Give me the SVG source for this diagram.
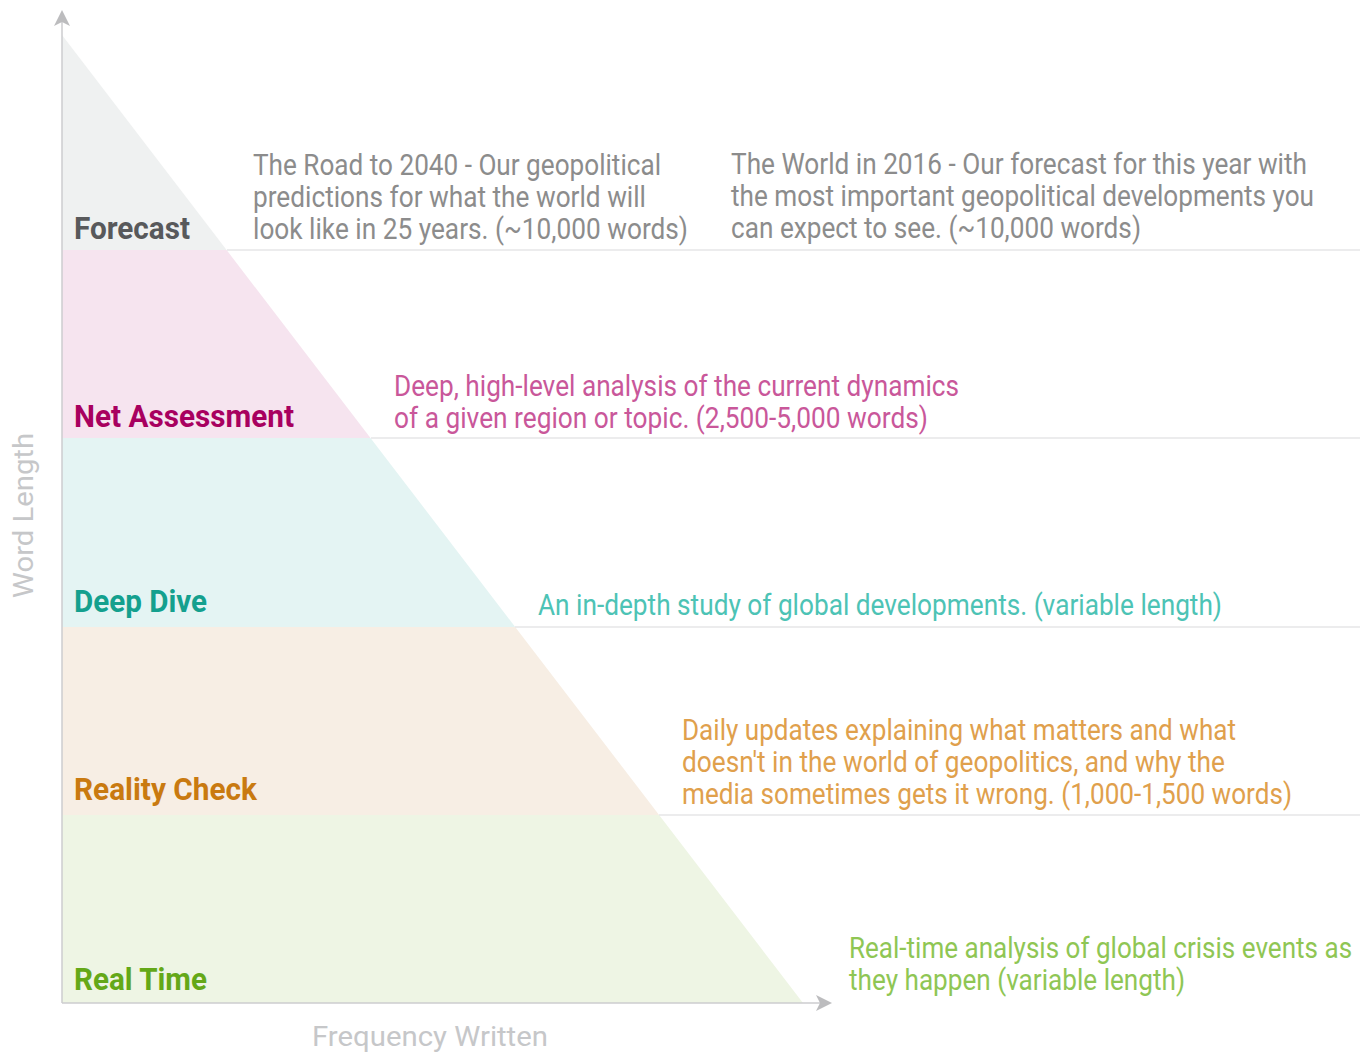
<svg xmlns="http://www.w3.org/2000/svg" width="1369" height="1053" viewBox="0 0 1369 1053">
<style>
.lbl{font-family:Roboto,"Liberation Sans",sans-serif;font-weight:700;font-size:32px}
.dsc{font-family:Roboto,"Liberation Sans",sans-serif;font-size:29px}
.ax{font-family:Roboto,"Liberation Sans",sans-serif;font-size:28px;fill:#c6c7c9}
.sep{stroke:#e6e6e7;stroke-width:1.5;fill:none}
.axis{stroke:#cdcdcf;stroke-width:1.5;fill:none}
</style>
<defs>
<marker id="arr" viewBox="0 0 16 16" refX="14" refY="8" markerWidth="16" markerHeight="16" markerUnits="userSpaceOnUse" orient="auto">
<path d="M0,0 L16,8 L0,16 L4,8 Z" fill="#bcbcbe"/>
</marker>
</defs>
<rect width="1369" height="1053" fill="#ffffff"/>
<g id="bands">
<polygon id="band-forecast" points="62,35 226.6,250 62,250" fill="#eff1f1"/>
<polygon id="band-net" points="62,250 226.6,250 370.5,438 62,438" fill="#f6e4ef"/>
<polygon id="band-deep" points="62,438 370.5,438 515.2,627 62,627" fill="#e4f4f3"/>
<polygon id="band-reality" points="62,627 515.2,627 659.1,815 62,815" fill="#f7eee4"/>
<polygon id="band-realtime" points="62,815 659.1,815 803,1003 62,1003" fill="#eef5e4"/>
</g>
<g id="connectors">
<line class="sep" x1="227" y1="250" x2="1360" y2="250"/>
<line class="sep" x1="371" y1="438" x2="1360" y2="438"/>
<line class="sep" x1="515" y1="627" x2="1360" y2="627"/>
<line class="sep" x1="659" y1="815" x2="1360" y2="815"/>
<line class="axis" x1="62" y1="1003" x2="62" y2="12" marker-end="url(#arr)"/>
<line class="axis" x1="62" y1="1003" x2="830" y2="1003" marker-end="url(#arr)"/>
</g>
<g id="forecast">
<text class="lbl" x="74" y="239" fill="#58595b" textLength="116" lengthAdjust="spacingAndGlyphs">Forecast</text>
<g class="dsc" fill="#8c8c8c">
<text x="253" y="175" textLength="408" lengthAdjust="spacingAndGlyphs">The Road to 2040 - Our geopolitical</text>
<text x="253" y="207" textLength="393" lengthAdjust="spacingAndGlyphs">predictions for what the world will</text>
<text x="253" y="239" textLength="435" lengthAdjust="spacingAndGlyphs">look like in 25 years. (~10,000 words)</text>
<text x="731" y="174" textLength="576" lengthAdjust="spacingAndGlyphs">The World in 2016 - Our forecast for this year with</text>
<text transform="translate(731,206) scale(0.88,1)" x="0" y="0" textLength="662.5" lengthAdjust="spacingAndGlyphs">the most important geopolitical developments you</text>
<text x="731" y="238" textLength="410" lengthAdjust="spacingAndGlyphs">can expect to see. (~10,000 words)</text>
</g>
</g>
<g id="net-assessment">
<text class="lbl" x="74" y="427" fill="#a8005f" textLength="220" lengthAdjust="spacingAndGlyphs">Net Assessment</text>
<g class="dsc" fill="#c9579a">
<text x="394" y="396" textLength="565" lengthAdjust="spacingAndGlyphs">Deep, high-level analysis of the current dynamics</text>
<text x="394" y="428" textLength="534" lengthAdjust="spacingAndGlyphs">of a given region or topic. (2,500-5,000 words)</text>
</g>
</g>
<g id="deep-dive">
<text class="lbl" x="74" y="612" fill="#14a08e" textLength="133" lengthAdjust="spacingAndGlyphs">Deep Dive</text>
<text class="dsc" x="538" y="615" fill="#4dc3b5" textLength="684" lengthAdjust="spacingAndGlyphs">An in-depth study of global developments. (variable length)</text>
</g>
<g id="reality-check">
<text class="lbl" x="74" y="800" fill="#c97a10" textLength="183" lengthAdjust="spacingAndGlyphs">Reality Check</text>
<g class="dsc" fill="#e0a04c">
<text x="682" y="740" textLength="554" lengthAdjust="spacingAndGlyphs">Daily updates explaining what matters and what</text>
<text x="682" y="772" textLength="543" lengthAdjust="spacingAndGlyphs">doesn't in the world of geopolitics, and why the</text>
<text x="682" y="804" textLength="610" lengthAdjust="spacingAndGlyphs">media sometimes gets it wrong. (1,000-1,500 words)</text>
</g>
</g>
<g id="real-time">
<text class="lbl" x="74" y="990" fill="#64a818" textLength="133" lengthAdjust="spacingAndGlyphs">Real Time</text>
<g class="dsc" fill="#8fc654">
<text transform="translate(849,958) scale(0.9,1)" x="0" y="0" textLength="559" lengthAdjust="spacingAndGlyphs">Real-time analysis of global crisis events as</text>
<text x="849" y="990" textLength="336" lengthAdjust="spacingAndGlyphs">they happen (variable length)</text>
</g>
</g>
<g id="axis-labels">
<text class="ax" x="312" y="1046" textLength="236" lengthAdjust="spacingAndGlyphs">Frequency Written</text>
<text class="ax" transform="translate(33,598) rotate(-90)" x="0" y="0" textLength="165" lengthAdjust="spacingAndGlyphs">Word Length</text>
</g>
</svg>
